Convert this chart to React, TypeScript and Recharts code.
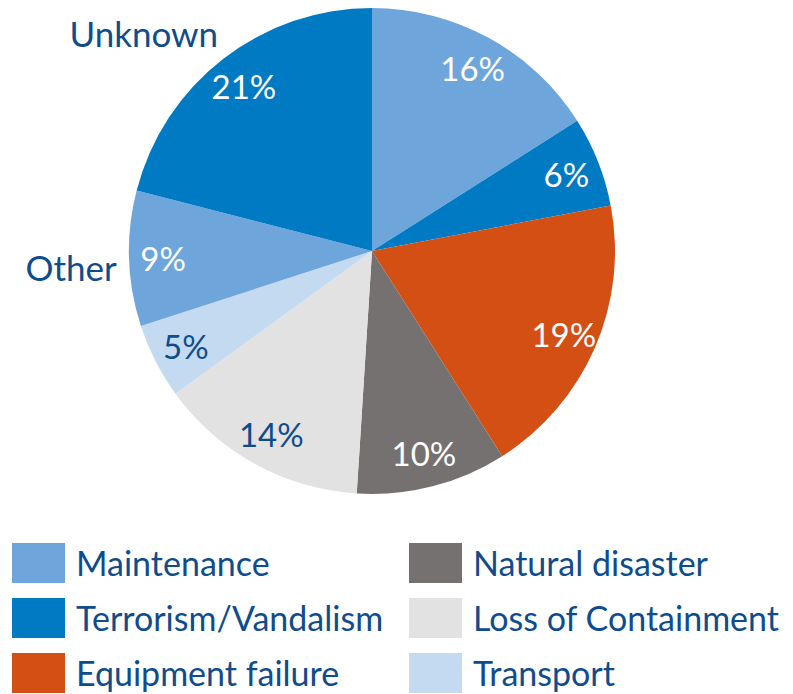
import { PieChart, Pie, Cell } from 'recharts'

const categories = [
    'Maintenance',
    'Terrorism/Vandalism',
    'Equipment failure',
    'Natural disaster',
    'Loss of Containment',
    'Transport',
    'Other',
    'Unknown',
]
const shares = [16, 6, 19, 10, 14, 5, 9, 21]
const sliceColors = ['#6ea6db', '#007ac3', '#d44f13', '#757170', '#e3e2e3', '#c3daf0', '#6ea6db', '#007ac3']
// slices that get their name written outside the pie
const outsideNames = ['Unknown', 'Other']
// light slices carry dark labels
const darkLabelNames = ['Loss of Containment', 'Transport']

// legend order: two columns, three rows
const legendItems = [
    { name: 'Maintenance', color: '#6ea6db' },
    { name: 'Natural disaster', color: '#757170' },
    { name: 'Terrorism/Vandalism', color: '#007ac3' },
    { name: 'Loss of Containment', color: '#e3e2e3' },
    { name: 'Equipment failure', color: '#d44f13' },
    { name: 'Transport', color: '#c3daf0' },
]

const data = categories.map((name, i) => ({ name, value: shares[i] }))

const FONT = 'Lato, "Open Sans", sans-serif'
const TEXT_BLUE = '#0f4c8c'
const RAD = Math.PI / 180

function renderLabel(props: any) {
    const { cx, cy, midAngle, outerRadius, value, name } = props
    const r = outerRadius * 0.86
    const x = cx + r * Math.cos(-midAngle * RAD)
    const y = cy + r * Math.sin(-midAngle * RAD)
    const ro = outerRadius * 1.08
    const ox = cx + ro * Math.cos(-midAngle * RAD) + 7
    const oy = cy + ro * Math.sin(-midAngle * RAD)
    return (
        <g>
            <text
                x={x}
                y={y}
                fill={darkLabelNames.includes(name) ? TEXT_BLUE : '#ffffff'}
                textAnchor="middle"
                dominantBaseline="central"
                style={{ fontFamily: FONT, fontSize: 33 }}
            >
                {`${value}%`}
            </text>
            {outsideNames.includes(name) && (
                <text
                    x={ox}
                    y={oy + (name === 'Other' ? 8 : -11)}
                    fill={TEXT_BLUE}
                    textAnchor="end"
                    dominantBaseline="central"
                    style={{ fontFamily: FONT, fontSize: 35 }}
                >
                    {name}
                </text>
            )}
        </g>
    )
}

function LegendGrid() {
    return (
        <div
            style={{
                position: 'absolute',
                left: 12,
                top: 543,
                display: 'grid',
                gridTemplateColumns: '397px 380px',
                rowGap: 15,
                fontFamily: FONT,
                fontSize: 34,
                color: TEXT_BLUE,
            }}
        >
            {legendItems.map((item) => (
                <div key={item.name} style={{ display: 'flex', alignItems: 'center', height: 40 }}>
                    <span style={{ width: 53, height: 40, background: item.color, marginRight: 11, flexShrink: 0 }} />
                    <span style={{ whiteSpace: 'nowrap', lineHeight: '40px' }}>{item.name}</span>
                </div>
            ))}
        </div>
    )
}

export default function App() {
    return (
        <div style={{ position: 'absolute', left: 0, top: 0, width: 793, height: 694, background: '#fff' }}>
            <PieChart width={793} height={540} margin={{ top: 0, right: 0, bottom: 0, left: 0 }}>
                <Pie
                    data={data}
                    dataKey="value"
                    nameKey="name"
                    cx={372}
                    cy={251}
                    outerRadius={243}
                    startAngle={90}
                    endAngle={-270}
                    stroke="none"
                    label={renderLabel}
                    labelLine={false}
                    isAnimationActive={false}
                >
                    {data.map((d, i) => (
                        <Cell key={d.name} fill={sliceColors[i]} />
                    ))}
                </Pie>
            </PieChart>
            <LegendGrid />
        </div>
    )
}
